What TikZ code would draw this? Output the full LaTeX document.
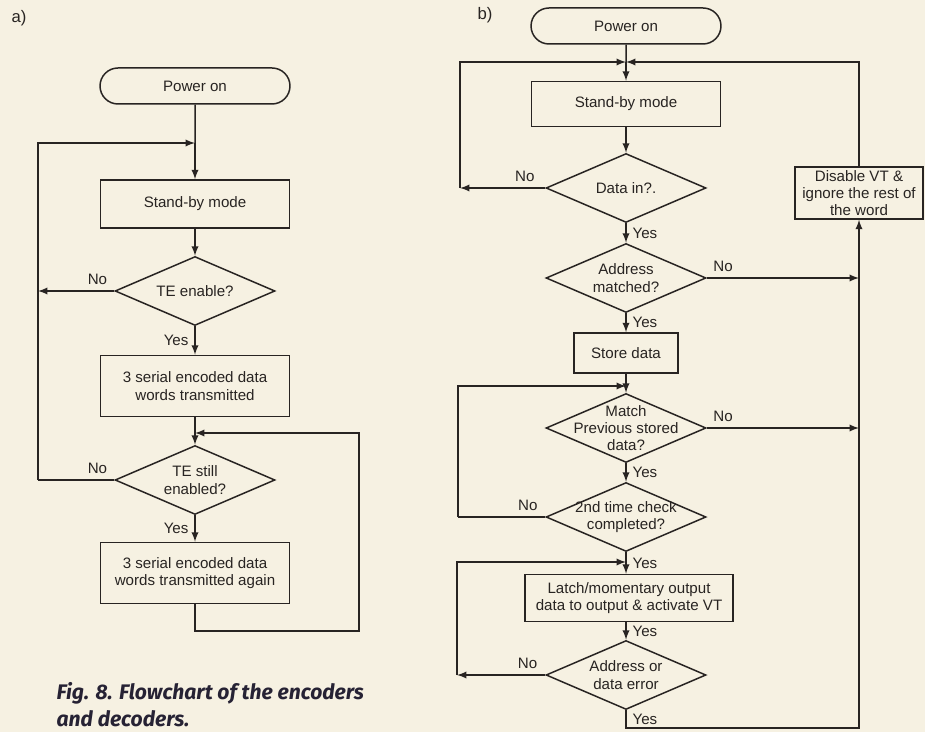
\documentclass[tikz,border=0pt]{standalone}
\usepackage{fontspec}
\setmainfont{Liberation Sans}
\newfontfamily\capfont{Fira Sans}
\usetikzlibrary{shapes.geometric,shapes.misc}
\definecolor{paper}{RGB}{246,241,226}
\definecolor{ink}{RGB}{40,36,34}
\definecolor{capink}{RGB}{38,34,52}

\begin{document}
\begin{tikzpicture}[x=0.02cm,y=-0.02cm,line width=0.85pt,>=latex,
  every node/.style={text=ink,font=\fontsize{8.6}{9.8}\selectfont},
  term/.style={draw=ink,rounded rectangle,minimum width=3.8cm,minimum height=0.72cm,inner sep=0pt},
  blk/.style={draw=ink,rectangle,align=center,minimum width=3.78cm,minimum height=0.96cm,inner sep=0pt},
  dia/.style={draw=ink,diamond,minimum width=3.2cm,minimum height=1.38cm,inner sep=0pt},
  lab/.style={align=center},
  flow/.style={draw=ink,->}]
\fill[paper] (0,0) rectangle (925,732);
\useasboundingbox (0,0) rectangle (925,732);

% a) encoder
\node[font=\fontsize{9.5}{11}\selectfont] (tagA) at (19,18) {a)};
\node[term] (aon) at (195,86) {Power on};
\node[blk] (asb) at (195,204) {Stand-by mode};
\node[dia,label={[lab]center:TE enable?}] (ate) at (195,291) {};
\node[blk,minimum height=1.22cm] (atx) at (195,386) {3 serial encoded data\\words transmitted};
\node[dia,label={[lab]center:TE still\\enabled?}] (ast) at (195,480) {};
\node[blk,minimum height=1.22cm] (aag) at (195,573) {3 serial encoded data\\words transmitted again};
\coordinate (aj1) at (195,143);
\coordinate (aj2) at (195,433);
\coordinate (al0) at (38,143);
\coordinate (al1) at (38,291);
\coordinate (al2) at (38,480);
\coordinate (abl) at (195,631);
\coordinate (abr) at (359,631);
\coordinate (atr) at (359,433);

\draw[ink] (aon) -- (aj1);
\draw[flow] (aj1) -- (asb);
\draw[flow] (asb) -- (ate);
\draw[flow] (ate) -- node[left]{Yes} (atx);
\draw[flow] (atx) -- (ast);
\draw[flow] (ast) -- node[left]{Yes} (aag);
\draw[flow] (ate.west) -- node[pos=.22,above]{No} (al1);
\draw[ink] (ast.west) -- node[pos=.22,above]{No} (al2);
\draw[flow] (al2) -- (al0) -- (aj1);
\draw[flow] (aag) -- (abl) -- (abr) -- (atr) -- (aj2);

\node[anchor=north west,align=left,text=capink,
  font=\capfont\bfseries\itshape\fontsize{12}{15.3}\selectfont] (capt) at (50,676)
  {Fig. 8. Flowchart of the encoders\\and decoders.};

% b) decoder
\node[font=\fontsize{9.5}{11}\selectfont] (tagB) at (485,15) {b)};
\node[term] (bon) at (626,26) {Power on};
\node[blk,minimum height=0.9cm] (bsb) at (626,104) {Stand-by mode};
\node[dia,label={[lab]center:Data in?.}] (bdi) at (626,188) {};
\node[dia,label={[lab]center:Address\\matched?}] (bad) at (626,278) {};
\node[blk,minimum width=2.08cm,minimum height=0.8cm] (bst) at (626,353) {Store data};
\node[dia,label={[lab]center:Match\\Previous stored\\data?}] (bmt) at (626,428) {};
\node[dia,label={[lab]center:2nd time check\\completed?}] (bck) at (626,517) {};
\node[blk,minimum width=4.16cm,minimum height=0.94cm] (blt) at (629,598) {Latch/momentary output\\data to output \& activate VT};
\node[dia,label={[lab]center:Address or\\data error}] (ber) at (626,675) {};
\node[blk,minimum width=2.56cm,minimum height=1.04cm] (bdis) at (859,193) {Disable VT \&\\ignore the rest of\\the word};
\coordinate (bj1) at (626,62);
\coordinate (bj2) at (626,386);
\coordinate (bj3) at (626,562);
\coordinate (bl0) at (460,62);
\coordinate (bl1) at (460,188);
\coordinate (bm0) at (458,386);
\coordinate (bm1) at (458,517);
\coordinate (bn0) at (457,562);
\coordinate (bn1) at (457,675);
\coordinate (br0) at (859,62);
\coordinate (br1) at (859,278);
\coordinate (br2) at (859,428);
\coordinate (bbl) at (626,728);
\coordinate (bbr) at (859,728);

\draw[ink] (bon) -- (bj1);
\draw[flow] (bj1) -- (bsb);
\draw[flow] (bsb) -- (bdi);
\draw[flow] (bdi) -- node[right]{Yes} (bad);
\draw[flow] (bad) -- node[right]{Yes} (bst);
\draw[flow] (bst) -- (bmt);
\draw[flow] (bmt) -- node[right]{Yes} (bck);
\draw[flow] (bck) -- node[right]{Yes} (bck |- blt.north);
\draw[flow] (ber |- blt.south) -- node[right]{Yes} (ber);
\draw[flow] (ber) -- node[right]{Yes} (bbl) -- (bbr) -- (bdis);
\draw[flow] (bdis) -- (br0) -- (bj1);
\draw[flow] (bdi.west) -- node[pos=.24,above]{No} (bl1);
\draw[flow] (bl1) -- (bl0) -- (bj1);
\draw[flow] (bad.east) -- node[pos=0,above right]{No} (br1);
\draw[flow] (bmt.east) -- node[pos=0,above right]{No} (br2);
\draw[ink] (bck.west) -- node[pos=.2,above]{No} (bm1);
\draw[flow] (bm1) -- (bm0) -- (bj2);
\draw[flow] (ber.west) -- node[pos=.2,above]{No} (bn1);
\draw[flow] (bn1) -- (bn0) -- (bj3);
\end{tikzpicture}
\end{document}
